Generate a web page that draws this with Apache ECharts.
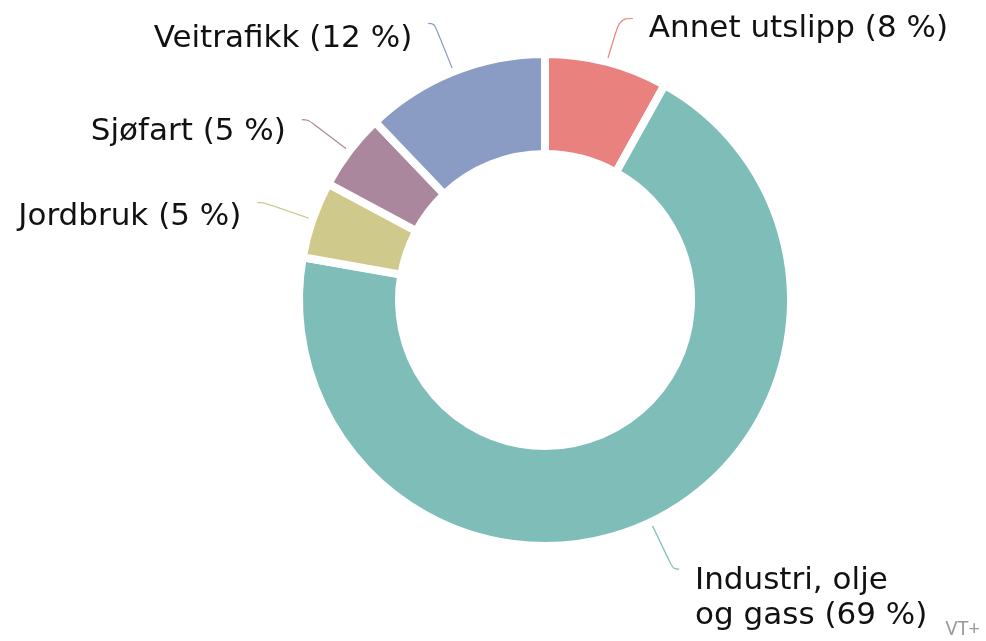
<!DOCTYPE html>
<html>
<head>
<meta charset="utf-8">
<script src="https://cdn.jsdelivr.net/npm/echarts@6/dist/echarts.min.js"></script>
<style>
  html, body { margin: 0; padding: 0; background: #fff; }
  #chart { width: 986px; height: 641px; }
</style>
</head>
<body>
<div id="chart"></div>
<script>
// kategorier og andeler (prosent)
const categories = ['Annet utslipp', 'Industri, olje\nog gass', 'Jordbruk', 'Sjøfart', 'Veitrafikk']
const shares = [8, 69, 5, 5, 12]
const colors = ['#e9827e', '#7fbdb9', '#cfca8c', '#ab879d', '#8a9cc4']

const chart = echarts.init(document.getElementById('chart'))

const data = categories.map((name, i) => ({
  name: name,
  value: shares[i],
  itemStyle: { color: colors[i] },
  labelLine: { lineStyle: { color: colors[i] } }
}))
data[0].labelLine.length2 = 13

const option = {
  animation: false,
  graphic: [{
    type: 'text',
    right: 6,
    bottom: 2,
    style: { text: 'VT+', fill: '#9a9a9a', font: '20px "Noto Sans"' }
  }],
  series: [{
    type: 'pie',
    center: [545, 300],
    radius: [146, 246],
    startAngle: 90,
    clockwise: true,
    itemStyle: {
      borderColor: '#fff',
      borderWidth: 8
    },
    label: {
      show: true,
      formatter: function(p) {
        return p.name + ' (' + p.value + ' %)'
      },
      fontFamily: 'DejaVu Sans',
      fontSize: 31,
      color: '#111',
      lineHeight: 35,
      distanceToLabelLine: 16
    },
    labelLine: {
      show: true,
      length: 52,
      length2: 6,
      smooth: 0.4,
      lineStyle: { width: 1.2 }
    },
    // teksten ligger litt under enden av linja
    labelLayout: function(params) {
      const dy = [10, 29, 14, 12, 16]
      return { dy: dy[params.dataIndex] }
    },
    emphasis: { disabled: true },
    data: data
  }]
}

chart.setOption(option)
</script>
</body>
</html>
